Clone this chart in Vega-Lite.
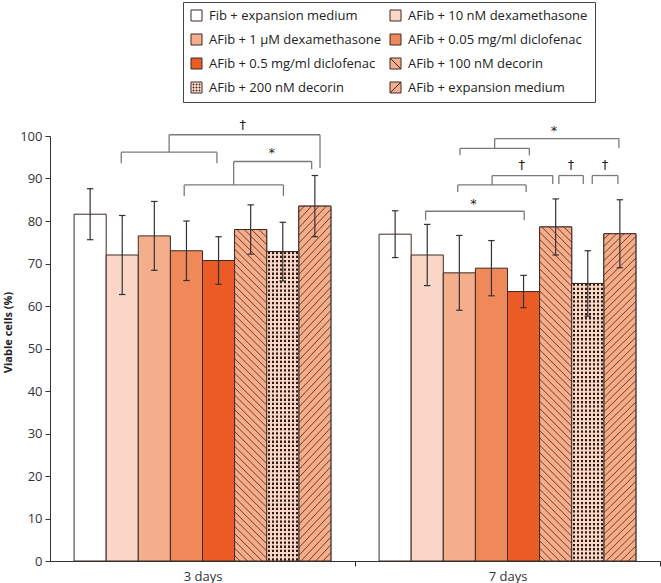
{
  "$schema": "https://vega.github.io/schema/vega-lite/v6.json",
  "autosize": "none",
  "width": 610,
  "height": 425,
  "padding": {"left": 50, "top": 136, "right": 1, "bottom": 22},
  "background": "white",
  "config": {"view": {"stroke": null}, "font": "Open Sans"},
  "data": {"values": [
    {"day": "3 days", "treatment": "Fib + expansion medium", "mean": 81.6, "sd": 6.0},
    {"day": "3 days", "treatment": "AFib + 10 nM dexamethasone", "mean": 72.0, "sd": 9.3},
    {"day": "3 days", "treatment": "AFib + 1 µM dexamethasone", "mean": 76.5, "sd": 8.1},
    {"day": "3 days", "treatment": "AFib + 0.05 mg/ml diclofenac", "mean": 73.0, "sd": 7.0},
    {"day": "3 days", "treatment": "AFib + 0.5 mg/ml diclofenac", "mean": 70.7, "sd": 5.6},
    {"day": "3 days", "treatment": "AFib + 100 nM decorin", "mean": 78.0, "sd": 5.8},
    {"day": "3 days", "treatment": "AFib + 200 nM decorin", "mean": 72.8, "sd": 6.9},
    {"day": "3 days", "treatment": "AFib + expansion medium", "mean": 83.5, "sd": 7.2},
    {"day": "7 days", "treatment": "Fib + expansion medium", "mean": 76.9, "sd": 5.5},
    {"day": "7 days", "treatment": "AFib + 10 nM dexamethasone", "mean": 72.0, "sd": 7.2},
    {"day": "7 days", "treatment": "AFib + 1 µM dexamethasone", "mean": 67.8, "sd": 8.8},
    {"day": "7 days", "treatment": "AFib + 0.05 mg/ml diclofenac", "mean": 68.9, "sd": 6.5},
    {"day": "7 days", "treatment": "AFib + 0.5 mg/ml diclofenac", "mean": 63.4, "sd": 3.8},
    {"day": "7 days", "treatment": "AFib + 100 nM decorin", "mean": 78.6, "sd": 6.6},
    {"day": "7 days", "treatment": "AFib + 200 nM decorin", "mean": 65.3, "sd": 7.7},
    {"day": "7 days", "treatment": "AFib + expansion medium", "mean": 77.0, "sd": 8.0}
  ]},
  "transform": [
    {"calculate": "indexof(['Fib + expansion medium','AFib + 10 nM dexamethasone','AFib + 1 µM dexamethasone','AFib + 0.05 mg/ml diclofenac','AFib + 0.5 mg/ml diclofenac','AFib + 100 nM decorin','AFib + 200 nM decorin','AFib + expansion medium'], datum.treatment)", "as": "idx"},
    {"calculate": "(datum.day === '3 days' ? 0.75 : 10.25) + datum.idx", "as": "x0"},
    {"calculate": "datum.x0 + 1", "as": "x1"},
    {"calculate": "datum.x0 + 0.5", "as": "xc"},
    {"calculate": "datum.x0 + 0.4", "as": "xcl"},
    {"calculate": "datum.x0 + 0.6", "as": "xcr"},
    {"calculate": "datum.mean - datum.sd", "as": "lo"},
    {"calculate": "datum.mean + datum.sd", "as": "hi"}
  ],
  "layer": [
    {
      "mark": {"type": "point", "filled": true, "size": 121},
      "encoding": {
        "x": {"field": "xc", "type": "quantitative",
          "scale": {"domain": [0, 19], "nice": false, "zero": false},
          "axis": {"title": null, "grid": false, "values": [4.75, 9.5, 14.25, 19],
            "labelExpr": "datum.value == 4.75 ? '3 days' : (datum.value == 14.25 ? '7 days' : '')",
            "tickOpacity": {"condition": {"test": "datum.value == 4.75 || datum.value == 14.25", "value": 0}, "value": 1},
            "tickSize": 5, "labelPadding": 4, "labelFont": "Open Sans", "labelFontSize": 13, "labelColor": "#333",
            "domainColor": "#333", "tickColor": "#333", "labelFlush": false, "labelOverlap": false}},
        "y": {"field": "lo", "type": "quantitative",
          "scale": {"domain": [0, 100], "nice": false, "zero": true},
          "axis": {"title": "Viable cells (%)", "grid": false, "values": [0,10,20,30,40,50,60,70,80,90,100],
            "tickSize": 5, "labelPadding": 3, "labelFont": "Open Sans", "labelFontSize": 13, "labelColor": "#333",
            "titleFont": "Open Sans", "titleFontSize": 11, "titleFontWeight": "bold", "titleColor": "#222",
            "titlePadding": 6, "titleY": 196, "domainColor": "#333", "tickColor": "#333"}},
        "shape": {"field": "treatment", "type": "nominal",
          "scale": {"domain": ["Fib + expansion medium","AFib + 1 µM dexamethasone","AFib + 0.5 mg/ml diclofenac","AFib + 200 nM decorin","AFib + 10 nM dexamethasone","AFib + 0.05 mg/ml diclofenac","AFib + 100 nM decorin","AFib + expansion medium"],
            "range": ["M-1,-1H1V1H-1Z","M-1,-1H1V1H-1Z","M-1,-1H1V1H-1Z",
              "M-1,-1H1V1H-1Z M-0.63,-0.63h0.16v0.16h-0.16Z M-0.08,-0.63h0.16v0.16h-0.16Z M0.47,-0.63h0.16v0.16h-0.16Z M-0.63,-0.08h0.16v0.16h-0.16Z M-0.08,-0.08h0.16v0.16h-0.16Z M0.47,-0.08h0.16v0.16h-0.16Z M-0.63,0.47h0.16v0.16h-0.16Z M-0.08,0.47h0.16v0.16h-0.16Z M0.47,0.47h0.16v0.16h-0.16Z",
              "M-1,-1H1V1H-1Z","M-1,-1H1V1H-1Z",
              "M-1,-1H1V1H-1Z M-1,-1L1,1",
              "M-1,-1H1V1H-1Z M-1,1L1,-1"]}}
      }
    },
    {
      "mark": {"type": "bar", "stroke": "#3b2b24", "strokeWidth": 1},
      "encoding": {
        "x": {"field": "x0", "type": "quantitative"},
        "x2": {"field": "x1"},
        "y": {"field": "mean", "type": "quantitative"},
        "y2": {"datum": 0},
        "fill": {"field": "treatment", "type": "nominal",
          "scale": {"domain": ["Fib + expansion medium","AFib + 1 µM dexamethasone","AFib + 0.5 mg/ml diclofenac","AFib + 200 nM decorin","AFib + 10 nM dexamethasone","AFib + 0.05 mg/ml diclofenac","AFib + 100 nM decorin","AFib + expansion medium"],
            "range": ["#ffffff","#f5ae8c","#eb5b26","#fad6c6","#fad6c6","#f0895a","#f5ae8c","#f5ae8c"]},
          "legend": {"title": null, "orient": "none", "legendX": 133, "legendY": -134, "columns": 2,
            "strokeColor": "#444", "padding": 7, "symbolSize": 121,
            "symbolStrokeColor": "#3b2b24", "symbolStrokeWidth": 1, "symbolOpacity": 1, "labelFont": "Open Sans", "labelFontSize": 13,
            "labelColor": "#222", "labelLimit": 300, "labelOffset": 6, "rowPadding": 9, "columnPadding": 6,
            "encode": {"symbols": {"update": {"stroke": {"value": "#3b2b24"}, "strokeWidth": {"value": 1}, "opacity": {"value": 1}}}}}
        }
      }
    },
    {
      "transform": [{"filter": "datum.treatment === 'AFib + 100 nM decorin'"}],
      "mark": {"type": "bar", "stroke": "#3b2b24", "strokeWidth": 1,
        "fill": {"gradient": "linear", "x1": 0, "y1": 1, "x2": 0.105, "y2": -0.09, "stops": [
{"offset":0,"color":"#f5ae8c"},
{"offset":0.012,"color":"#f5ae8c"},{"offset":0.015,"color":"#7e432c"},{"offset":0.018,"color":"#f5ae8c"},
{"offset":0.032,"color":"#f5ae8c"},{"offset":0.035,"color":"#7e432c"},{"offset":0.038,"color":"#f5ae8c"},
{"offset":0.052,"color":"#f5ae8c"},{"offset":0.055,"color":"#7e432c"},{"offset":0.058,"color":"#f5ae8c"},
{"offset":0.072,"color":"#f5ae8c"},{"offset":0.075,"color":"#7e432c"},{"offset":0.078,"color":"#f5ae8c"},
{"offset":0.092,"color":"#f5ae8c"},{"offset":0.095,"color":"#7e432c"},{"offset":0.098,"color":"#f5ae8c"},
{"offset":0.112,"color":"#f5ae8c"},{"offset":0.115,"color":"#7e432c"},{"offset":0.118,"color":"#f5ae8c"},
{"offset":0.132,"color":"#f5ae8c"},{"offset":0.135,"color":"#7e432c"},{"offset":0.138,"color":"#f5ae8c"},
{"offset":0.152,"color":"#f5ae8c"},{"offset":0.155,"color":"#7e432c"},{"offset":0.158,"color":"#f5ae8c"},
{"offset":0.172,"color":"#f5ae8c"},{"offset":0.175,"color":"#7e432c"},{"offset":0.178,"color":"#f5ae8c"},
{"offset":0.192,"color":"#f5ae8c"},{"offset":0.195,"color":"#7e432c"},{"offset":0.198,"color":"#f5ae8c"},
{"offset":0.212,"color":"#f5ae8c"},{"offset":0.215,"color":"#7e432c"},{"offset":0.218,"color":"#f5ae8c"},
{"offset":0.232,"color":"#f5ae8c"},{"offset":0.235,"color":"#7e432c"},{"offset":0.238,"color":"#f5ae8c"},
{"offset":0.252,"color":"#f5ae8c"},{"offset":0.255,"color":"#7e432c"},{"offset":0.258,"color":"#f5ae8c"},
{"offset":0.272,"color":"#f5ae8c"},{"offset":0.275,"color":"#7e432c"},{"offset":0.278,"color":"#f5ae8c"},
{"offset":0.292,"color":"#f5ae8c"},{"offset":0.295,"color":"#7e432c"},{"offset":0.298,"color":"#f5ae8c"},
{"offset":0.312,"color":"#f5ae8c"},{"offset":0.315,"color":"#7e432c"},{"offset":0.318,"color":"#f5ae8c"},
{"offset":0.332,"color":"#f5ae8c"},{"offset":0.335,"color":"#7e432c"},{"offset":0.338,"color":"#f5ae8c"},
{"offset":0.352,"color":"#f5ae8c"},{"offset":0.355,"color":"#7e432c"},{"offset":0.358,"color":"#f5ae8c"},
{"offset":0.372,"color":"#f5ae8c"},{"offset":0.375,"color":"#7e432c"},{"offset":0.378,"color":"#f5ae8c"},
{"offset":0.392,"color":"#f5ae8c"},{"offset":0.395,"color":"#7e432c"},{"offset":0.398,"color":"#f5ae8c"},
{"offset":0.412,"color":"#f5ae8c"},{"offset":0.415,"color":"#7e432c"},{"offset":0.418,"color":"#f5ae8c"},
{"offset":0.432,"color":"#f5ae8c"},{"offset":0.435,"color":"#7e432c"},{"offset":0.438,"color":"#f5ae8c"},
{"offset":0.452,"color":"#f5ae8c"},{"offset":0.455,"color":"#7e432c"},{"offset":0.458,"color":"#f5ae8c"},
{"offset":0.472,"color":"#f5ae8c"},{"offset":0.475,"color":"#7e432c"},{"offset":0.478,"color":"#f5ae8c"},
{"offset":0.492,"color":"#f5ae8c"},{"offset":0.495,"color":"#7e432c"},{"offset":0.498,"color":"#f5ae8c"},
{"offset":0.512,"color":"#f5ae8c"},{"offset":0.515,"color":"#7e432c"},{"offset":0.518,"color":"#f5ae8c"},
{"offset":0.532,"color":"#f5ae8c"},{"offset":0.535,"color":"#7e432c"},{"offset":0.538,"color":"#f5ae8c"},
{"offset":0.552,"color":"#f5ae8c"},{"offset":0.555,"color":"#7e432c"},{"offset":0.558,"color":"#f5ae8c"},
{"offset":0.572,"color":"#f5ae8c"},{"offset":0.575,"color":"#7e432c"},{"offset":0.578,"color":"#f5ae8c"},
{"offset":0.592,"color":"#f5ae8c"},{"offset":0.595,"color":"#7e432c"},{"offset":0.598,"color":"#f5ae8c"},
{"offset":0.612,"color":"#f5ae8c"},{"offset":0.615,"color":"#7e432c"},{"offset":0.618,"color":"#f5ae8c"},
{"offset":0.632,"color":"#f5ae8c"},{"offset":0.635,"color":"#7e432c"},{"offset":0.638,"color":"#f5ae8c"},
{"offset":0.652,"color":"#f5ae8c"},{"offset":0.655,"color":"#7e432c"},{"offset":0.658,"color":"#f5ae8c"},
{"offset":0.672,"color":"#f5ae8c"},{"offset":0.675,"color":"#7e432c"},{"offset":0.678,"color":"#f5ae8c"},
{"offset":0.692,"color":"#f5ae8c"},{"offset":0.695,"color":"#7e432c"},{"offset":0.698,"color":"#f5ae8c"},
{"offset":0.712,"color":"#f5ae8c"},{"offset":0.715,"color":"#7e432c"},{"offset":0.718,"color":"#f5ae8c"},
{"offset":0.732,"color":"#f5ae8c"},{"offset":0.735,"color":"#7e432c"},{"offset":0.738,"color":"#f5ae8c"},
{"offset":0.752,"color":"#f5ae8c"},{"offset":0.755,"color":"#7e432c"},{"offset":0.758,"color":"#f5ae8c"},
{"offset":0.772,"color":"#f5ae8c"},{"offset":0.775,"color":"#7e432c"},{"offset":0.778,"color":"#f5ae8c"},
{"offset":0.792,"color":"#f5ae8c"},{"offset":0.795,"color":"#7e432c"},{"offset":0.798,"color":"#f5ae8c"},
{"offset":0.812,"color":"#f5ae8c"},{"offset":0.815,"color":"#7e432c"},{"offset":0.818,"color":"#f5ae8c"},
{"offset":0.832,"color":"#f5ae8c"},{"offset":0.835,"color":"#7e432c"},{"offset":0.838,"color":"#f5ae8c"},
{"offset":0.852,"color":"#f5ae8c"},{"offset":0.855,"color":"#7e432c"},{"offset":0.858,"color":"#f5ae8c"},
{"offset":0.872,"color":"#f5ae8c"},{"offset":0.875,"color":"#7e432c"},{"offset":0.878,"color":"#f5ae8c"},
{"offset":0.892,"color":"#f5ae8c"},{"offset":0.895,"color":"#7e432c"},{"offset":0.898,"color":"#f5ae8c"},
{"offset":0.912,"color":"#f5ae8c"},{"offset":0.915,"color":"#7e432c"},{"offset":0.918,"color":"#f5ae8c"},
{"offset":0.932,"color":"#f5ae8c"},{"offset":0.935,"color":"#7e432c"},{"offset":0.938,"color":"#f5ae8c"},
{"offset":0.952,"color":"#f5ae8c"},{"offset":0.955,"color":"#7e432c"},{"offset":0.958,"color":"#f5ae8c"},
{"offset":0.972,"color":"#f5ae8c"},{"offset":0.975,"color":"#7e432c"},{"offset":0.978,"color":"#f5ae8c"},
{"offset":0.992,"color":"#f5ae8c"},{"offset":0.995,"color":"#7e432c"},{"offset":0.998,"color":"#f5ae8c"}
        ]}},
      "encoding": {
        "x": {"field": "x0", "type": "quantitative"},
        "x2": {"field": "x1"},
        "y": {"field": "mean", "type": "quantitative"},
        "y2": {"datum": 0}
      }
    },
    {
      "transform": [{"filter": "datum.treatment === 'AFib + expansion medium'"}],
      "mark": {"type": "bar", "stroke": "#3b2b24", "strokeWidth": 1,
        "fill": {"gradient": "linear", "x1": 0, "y1": 0, "x2": 0.105, "y2": 1.09, "stops": [
{"offset":0,"color":"#f5ae8c"},
{"offset":0.012,"color":"#f5ae8c"},{"offset":0.015,"color":"#7e432c"},{"offset":0.018,"color":"#f5ae8c"},
{"offset":0.032,"color":"#f5ae8c"},{"offset":0.035,"color":"#7e432c"},{"offset":0.038,"color":"#f5ae8c"},
{"offset":0.052,"color":"#f5ae8c"},{"offset":0.055,"color":"#7e432c"},{"offset":0.058,"color":"#f5ae8c"},
{"offset":0.072,"color":"#f5ae8c"},{"offset":0.075,"color":"#7e432c"},{"offset":0.078,"color":"#f5ae8c"},
{"offset":0.092,"color":"#f5ae8c"},{"offset":0.095,"color":"#7e432c"},{"offset":0.098,"color":"#f5ae8c"},
{"offset":0.112,"color":"#f5ae8c"},{"offset":0.115,"color":"#7e432c"},{"offset":0.118,"color":"#f5ae8c"},
{"offset":0.132,"color":"#f5ae8c"},{"offset":0.135,"color":"#7e432c"},{"offset":0.138,"color":"#f5ae8c"},
{"offset":0.152,"color":"#f5ae8c"},{"offset":0.155,"color":"#7e432c"},{"offset":0.158,"color":"#f5ae8c"},
{"offset":0.172,"color":"#f5ae8c"},{"offset":0.175,"color":"#7e432c"},{"offset":0.178,"color":"#f5ae8c"},
{"offset":0.192,"color":"#f5ae8c"},{"offset":0.195,"color":"#7e432c"},{"offset":0.198,"color":"#f5ae8c"},
{"offset":0.212,"color":"#f5ae8c"},{"offset":0.215,"color":"#7e432c"},{"offset":0.218,"color":"#f5ae8c"},
{"offset":0.232,"color":"#f5ae8c"},{"offset":0.235,"color":"#7e432c"},{"offset":0.238,"color":"#f5ae8c"},
{"offset":0.252,"color":"#f5ae8c"},{"offset":0.255,"color":"#7e432c"},{"offset":0.258,"color":"#f5ae8c"},
{"offset":0.272,"color":"#f5ae8c"},{"offset":0.275,"color":"#7e432c"},{"offset":0.278,"color":"#f5ae8c"},
{"offset":0.292,"color":"#f5ae8c"},{"offset":0.295,"color":"#7e432c"},{"offset":0.298,"color":"#f5ae8c"},
{"offset":0.312,"color":"#f5ae8c"},{"offset":0.315,"color":"#7e432c"},{"offset":0.318,"color":"#f5ae8c"},
{"offset":0.332,"color":"#f5ae8c"},{"offset":0.335,"color":"#7e432c"},{"offset":0.338,"color":"#f5ae8c"},
{"offset":0.352,"color":"#f5ae8c"},{"offset":0.355,"color":"#7e432c"},{"offset":0.358,"color":"#f5ae8c"},
{"offset":0.372,"color":"#f5ae8c"},{"offset":0.375,"color":"#7e432c"},{"offset":0.378,"color":"#f5ae8c"},
{"offset":0.392,"color":"#f5ae8c"},{"offset":0.395,"color":"#7e432c"},{"offset":0.398,"color":"#f5ae8c"},
{"offset":0.412,"color":"#f5ae8c"},{"offset":0.415,"color":"#7e432c"},{"offset":0.418,"color":"#f5ae8c"},
{"offset":0.432,"color":"#f5ae8c"},{"offset":0.435,"color":"#7e432c"},{"offset":0.438,"color":"#f5ae8c"},
{"offset":0.452,"color":"#f5ae8c"},{"offset":0.455,"color":"#7e432c"},{"offset":0.458,"color":"#f5ae8c"},
{"offset":0.472,"color":"#f5ae8c"},{"offset":0.475,"color":"#7e432c"},{"offset":0.478,"color":"#f5ae8c"},
{"offset":0.492,"color":"#f5ae8c"},{"offset":0.495,"color":"#7e432c"},{"offset":0.498,"color":"#f5ae8c"},
{"offset":0.512,"color":"#f5ae8c"},{"offset":0.515,"color":"#7e432c"},{"offset":0.518,"color":"#f5ae8c"},
{"offset":0.532,"color":"#f5ae8c"},{"offset":0.535,"color":"#7e432c"},{"offset":0.538,"color":"#f5ae8c"},
{"offset":0.552,"color":"#f5ae8c"},{"offset":0.555,"color":"#7e432c"},{"offset":0.558,"color":"#f5ae8c"},
{"offset":0.572,"color":"#f5ae8c"},{"offset":0.575,"color":"#7e432c"},{"offset":0.578,"color":"#f5ae8c"},
{"offset":0.592,"color":"#f5ae8c"},{"offset":0.595,"color":"#7e432c"},{"offset":0.598,"color":"#f5ae8c"},
{"offset":0.612,"color":"#f5ae8c"},{"offset":0.615,"color":"#7e432c"},{"offset":0.618,"color":"#f5ae8c"},
{"offset":0.632,"color":"#f5ae8c"},{"offset":0.635,"color":"#7e432c"},{"offset":0.638,"color":"#f5ae8c"},
{"offset":0.652,"color":"#f5ae8c"},{"offset":0.655,"color":"#7e432c"},{"offset":0.658,"color":"#f5ae8c"},
{"offset":0.672,"color":"#f5ae8c"},{"offset":0.675,"color":"#7e432c"},{"offset":0.678,"color":"#f5ae8c"},
{"offset":0.692,"color":"#f5ae8c"},{"offset":0.695,"color":"#7e432c"},{"offset":0.698,"color":"#f5ae8c"},
{"offset":0.712,"color":"#f5ae8c"},{"offset":0.715,"color":"#7e432c"},{"offset":0.718,"color":"#f5ae8c"},
{"offset":0.732,"color":"#f5ae8c"},{"offset":0.735,"color":"#7e432c"},{"offset":0.738,"color":"#f5ae8c"},
{"offset":0.752,"color":"#f5ae8c"},{"offset":0.755,"color":"#7e432c"},{"offset":0.758,"color":"#f5ae8c"},
{"offset":0.772,"color":"#f5ae8c"},{"offset":0.775,"color":"#7e432c"},{"offset":0.778,"color":"#f5ae8c"},
{"offset":0.792,"color":"#f5ae8c"},{"offset":0.795,"color":"#7e432c"},{"offset":0.798,"color":"#f5ae8c"},
{"offset":0.812,"color":"#f5ae8c"},{"offset":0.815,"color":"#7e432c"},{"offset":0.818,"color":"#f5ae8c"},
{"offset":0.832,"color":"#f5ae8c"},{"offset":0.835,"color":"#7e432c"},{"offset":0.838,"color":"#f5ae8c"},
{"offset":0.852,"color":"#f5ae8c"},{"offset":0.855,"color":"#7e432c"},{"offset":0.858,"color":"#f5ae8c"},
{"offset":0.872,"color":"#f5ae8c"},{"offset":0.875,"color":"#7e432c"},{"offset":0.878,"color":"#f5ae8c"},
{"offset":0.892,"color":"#f5ae8c"},{"offset":0.895,"color":"#7e432c"},{"offset":0.898,"color":"#f5ae8c"},
{"offset":0.912,"color":"#f5ae8c"},{"offset":0.915,"color":"#7e432c"},{"offset":0.918,"color":"#f5ae8c"},
{"offset":0.932,"color":"#f5ae8c"},{"offset":0.935,"color":"#7e432c"},{"offset":0.938,"color":"#f5ae8c"},
{"offset":0.952,"color":"#f5ae8c"},{"offset":0.955,"color":"#7e432c"},{"offset":0.958,"color":"#f5ae8c"},
{"offset":0.972,"color":"#f5ae8c"},{"offset":0.975,"color":"#7e432c"},{"offset":0.978,"color":"#f5ae8c"},
{"offset":0.992,"color":"#f5ae8c"},{"offset":0.995,"color":"#7e432c"},{"offset":0.998,"color":"#f5ae8c"}
        ]}},
      "encoding": {
        "x": {"field": "x0", "type": "quantitative"},
        "x2": {"field": "x1"},
        "y": {"field": "mean", "type": "quantitative"},
        "y2": {"datum": 0}
      }
    },
    {
      "transform": [{"filter": "datum.treatment === 'AFib + 200 nM decorin'"}],
      "mark": {"type": "rule", "color": "#2b1a14", "strokeWidth": 30.5, "strokeDash": [2.3, 1.9], "strokeCap": "butt"},
      "encoding": {
        "x": {"field": "xc", "type": "quantitative"},
        "y": {"field": "mean", "type": "quantitative"},
        "y2": {"datum": 0}
      }
    },
    {
      "transform": [{"filter": "datum.treatment === 'AFib + 200 nM decorin'"}],
      "mark": {"type": "bar", "stroke": "#3b2b24", "strokeWidth": 1,
        "fill": {"gradient": "linear", "x1": 0, "y1": 0, "x2": 1, "y2": 0, "stops": [
{"offset":0,"color":"#fad6c6"},
{"offset":0.0275,"color":"#fad6c6"},{"offset":0.0275,"color":"rgba(250,214,198,0)"},{"offset":0.0975,"color":"rgba(250,214,198,0)"},{"offset":0.0975,"color":"#fad6c6"},
{"offset":0.1525,"color":"#fad6c6"},{"offset":0.1525,"color":"rgba(250,214,198,0)"},{"offset":0.2225,"color":"rgba(250,214,198,0)"},{"offset":0.2225,"color":"#fad6c6"},
{"offset":0.2775,"color":"#fad6c6"},{"offset":0.2775,"color":"rgba(250,214,198,0)"},{"offset":0.3475,"color":"rgba(250,214,198,0)"},{"offset":0.3475,"color":"#fad6c6"},
{"offset":0.4025,"color":"#fad6c6"},{"offset":0.4025,"color":"rgba(250,214,198,0)"},{"offset":0.4725,"color":"rgba(250,214,198,0)"},{"offset":0.4725,"color":"#fad6c6"},
{"offset":0.5275,"color":"#fad6c6"},{"offset":0.5275,"color":"rgba(250,214,198,0)"},{"offset":0.5975,"color":"rgba(250,214,198,0)"},{"offset":0.5975,"color":"#fad6c6"},
{"offset":0.6525,"color":"#fad6c6"},{"offset":0.6525,"color":"rgba(250,214,198,0)"},{"offset":0.7225,"color":"rgba(250,214,198,0)"},{"offset":0.7225,"color":"#fad6c6"},
{"offset":0.7775,"color":"#fad6c6"},{"offset":0.7775,"color":"rgba(250,214,198,0)"},{"offset":0.8475,"color":"rgba(250,214,198,0)"},{"offset":0.8475,"color":"#fad6c6"},
{"offset":0.9025,"color":"#fad6c6"},{"offset":0.9025,"color":"rgba(250,214,198,0)"},{"offset":0.9725,"color":"rgba(250,214,198,0)"},{"offset":0.9725,"color":"#fad6c6"},
{"offset":1,"color":"#fad6c6"}
        ]}},
      "encoding": {
        "x": {"field": "x0", "type": "quantitative"},
        "x2": {"field": "x1"},
        "y": {"field": "mean", "type": "quantitative"},
        "y2": {"datum": 0}
      }
    },
    {
      "mark": {"type": "rule", "color": "#333333", "strokeWidth": 1.2},
      "encoding": {
        "x": {"field": "xc", "type": "quantitative"},
        "y": {"field": "lo", "type": "quantitative"},
        "y2": {"field": "hi"}
      }
    },
    {
      "mark": {"type": "rule", "color": "#333333", "strokeWidth": 1.2},
      "encoding": {
        "x": {"field": "xcl", "type": "quantitative"},
        "x2": {"field": "xcr"},
        "y": {"field": "lo", "type": "quantitative"}
      }
    },
    {
      "mark": {"type": "rule", "color": "#333333", "strokeWidth": 1.2},
      "encoding": {
        "x": {"field": "xcl", "type": "quantitative"},
        "x2": {"field": "xcr"},
        "y": {"field": "hi", "type": "quantitative"}
      }
    },
    {
      "data": {"values": [
        {"x": 2.22, "x2": 5.2, "y": 96.2, "y2": 96.2},
        {"x": 2.22, "x2": 2.22, "y": 96.2, "y2": 93.6},
        {"x": 5.2, "x2": 5.2, "y": 96.2, "y2": 93.6},
        {"x": 4.18, "x2": 7.27, "y": 88.5, "y2": 88.5},
        {"x": 4.18, "x2": 4.18, "y": 88.5, "y2": 85.9},
        {"x": 7.27, "x2": 7.27, "y": 88.5, "y2": 85.9},
        {"x": 5.72, "x2": 8.15, "y": 94.0, "y2": 94.0},
        {"x": 5.72, "x2": 5.72, "y": 94.0, "y2": 88.5},
        {"x": 8.15, "x2": 8.15, "y": 94.0, "y2": 92.2},
        {"x": 3.71, "x2": 8.41, "y": 100.3, "y2": 100.3},
        {"x": 3.71, "x2": 3.71, "y": 100.3, "y2": 96.2},
        {"x": 8.41, "x2": 8.41, "y": 100.3, "y2": 92.5},
        {"x": 11.7, "x2": 14.77, "y": 82.3, "y2": 82.3},
        {"x": 11.7, "x2": 11.7, "y": 82.3, "y2": 80.2},
        {"x": 14.77, "x2": 14.77, "y": 82.3, "y2": 80.2},
        {"x": 12.7, "x2": 14.83, "y": 88.5, "y2": 88.5},
        {"x": 12.7, "x2": 12.7, "y": 88.5, "y2": 86.8},
        {"x": 14.83, "x2": 14.83, "y": 88.5, "y2": 86.8},
        {"x": 13.77, "x2": 15.66, "y": 90.7, "y2": 90.7},
        {"x": 13.77, "x2": 13.77, "y": 90.7, "y2": 88.5},
        {"x": 15.66, "x2": 15.66, "y": 90.7, "y2": 88.7},
        {"x": 15.85, "x2": 16.61, "y": 90.7, "y2": 90.7},
        {"x": 15.85, "x2": 15.85, "y": 90.7, "y2": 88.7},
        {"x": 16.61, "x2": 16.61, "y": 90.7, "y2": 88.7},
        {"x": 16.89, "x2": 17.69, "y": 90.7, "y2": 90.7},
        {"x": 16.89, "x2": 16.89, "y": 90.7, "y2": 88.7},
        {"x": 17.69, "x2": 17.69, "y": 90.7, "y2": 88.7},
        {"x": 12.77, "x2": 14.93, "y": 97.1, "y2": 97.1},
        {"x": 12.77, "x2": 12.77, "y": 97.1, "y2": 95.5},
        {"x": 14.93, "x2": 14.93, "y": 97.1, "y2": 95.5},
        {"x": 13.85, "x2": 17.72, "y": 99.4, "y2": 99.4},
        {"x": 13.85, "x2": 13.85, "y": 99.4, "y2": 97.1},
        {"x": 17.72, "x2": 17.72, "y": 99.4, "y2": 97.2}
      ]},
      "mark": {"type": "rule", "color": "#7a7a7a", "strokeWidth": 1.3},
      "encoding": {
        "x": {"field": "x", "type": "quantitative"},
        "x2": {"field": "x2"},
        "y": {"field": "y", "type": "quantitative"},
        "y2": {"field": "y2"}
      }
    },
    {
      "data": {"values": [
        {"x": 6.0, "y": 102.7, "label": "†"},
        {"x": 6.91, "y": 95.9, "label": "*"},
        {"x": 13.19, "y": 84.0, "label": "*"},
        {"x": 14.69, "y": 93.2, "label": "†"},
        {"x": 16.23, "y": 93.2, "label": "†"},
        {"x": 17.29, "y": 93.2, "label": "†"},
        {"x": 15.7, "y": 101.2, "label": "*"}
      ]},
      "mark": {"type": "text", "font": "DejaVu Sans", "fontSize": 13, "color": "#222222", "fill": "#222222", "baseline": "middle", "align": "center"},
      "encoding": {
        "x": {"field": "x", "type": "quantitative"},
        "y": {"field": "y", "type": "quantitative"},
        "text": {"field": "label"}
      }
    }
  ]
}
